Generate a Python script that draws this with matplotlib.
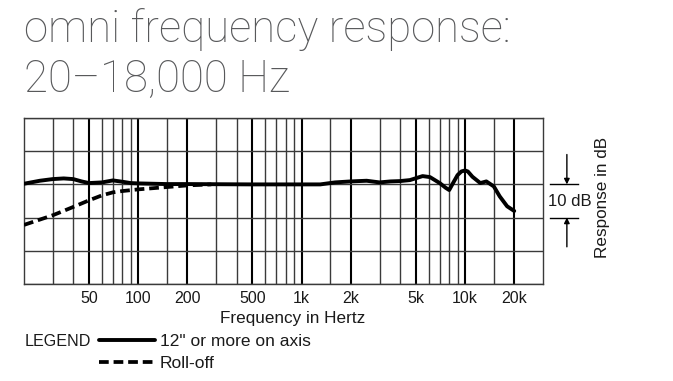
import matplotlib
matplotlib.use("Agg")
import matplotlib.pyplot as plt
import matplotlib.transforms as mtransforms
from matplotlib.ticker import FixedLocator, NullFormatter

plt.rcParams['font.family'] = ['Liberation Sans', 'DejaVu Sans']
plt.rcParams['lines.scale_dashes'] = False

# on-axis response (Hz, dB)
freq_axis = [20, 25, 30, 35, 40, 45, 50, 60, 70, 80, 90, 100, 150, 200, 500,
             1000, 1300, 1600, 2000, 2500, 3000, 3500, 4000, 4600, 5500, 6100,
             7000, 7600, 8000, 8400, 9000, 9500, 10000, 10400, 11100, 12400,
             13500, 15000, 16300, 18100, 20000]
db_axis = [0.2, 1.1, 1.6, 1.8, 1.6, 0.9, 0.4, 0.6, 1.2, 0.8, 0.4, 0.3, 0.1, 0.1, 0.0,
           0.0, 0.0, 0.6, 0.9, 1.1, 0.6, 0.9, 1.0, 1.3, 2.5, 2.2,
           0.4, -1.0, -1.7, 0.2, 2.8, 3.9, 4.2, 3.9, 2.3, 0.4,
           0.9, -0.6, -3.6, -6.6, -8.0]

# roll-off curve (Hz, dB)
freq_roll = [20, 30, 40, 50, 60, 70, 80, 100, 150, 200, 280]
db_roll = [-12.2, -9.3, -6.8, -4.8, -3.3, -2.4, -2.0, -1.5, -0.8, -0.3, 0.0]

major_ticks = [50, 100, 200, 500, 1000, 2000, 5000, 10000, 20000]
major_labels = ["50", "100", "200", "500", "1k", "2k", "5k", "10k", "20k"]
minor_ticks = [30, 40, 60, 70, 80, 90, 150, 300, 400, 600, 700, 800, 900,
               1500, 3000, 4000, 6000, 7000, 8000, 9000, 15000]
db_ticks = [-30, -20, -10, 0, 10, 20]

W, H = 673, 381
TXT = '#1a1a1a'
fig = plt.figure(figsize=(W / 100, H / 100), dpi=100)
ax = fig.add_axes([24 / W, 1 - 284 / H, (543 - 24) / W, (284 - 118) / H])

ax.set_xscale('log')
ax.set_xlim(20, 30000)
ax.set_ylim(-30, 20)

ax.plot(freq_roll, db_roll, color='black', lw=2.7, dashes=(7, 3.5),
        solid_capstyle='butt', label='Roll-off', zorder=3)
ax.plot(freq_axis, db_axis, color='black', lw=2.8, label='12" or more on axis',
        solid_capstyle='round', zorder=4)

ax.xaxis.set_major_locator(FixedLocator(major_ticks))
ax.xaxis.set_minor_locator(FixedLocator(minor_ticks))
ax.xaxis.set_minor_formatter(NullFormatter())
ax.set_xticklabels(major_labels)
ax.set_yticks(db_ticks)
ax.set_yticklabels([])
ax.tick_params(which='both', length=0)
ax.tick_params(axis='x', pad=5, labelsize=11.5, labelcolor=TXT)

ax.grid(which='major', axis='x', color='black', lw=1.5)
ax.grid(which='minor', axis='x', color='#3a3a3a', lw=1.0)
ax.grid(which='major', axis='y', color='#3a3a3a', lw=1.0)
ax.set_axisbelow(True)
for s in ax.spines.values():
    s.set_color('#3a3a3a')
    s.set_linewidth(1.0)

# 10 dB scale marker on the right
tr = mtransforms.blended_transform_factory(ax.transAxes, ax.transData)
for yv in (0, -10):
    ax.plot([1.0135, 1.067], [yv, yv], color='black', lw=1.0, transform=tr, clip_on=False)
ax.annotate('', xy=(1.046, 0), xytext=(1.046, 9), xycoords=tr, textcoords=tr,
            arrowprops=dict(arrowstyle='-|>', color='black', lw=1.0,
                            mutation_scale=8, shrinkA=0, shrinkB=0))
ax.annotate('', xy=(1.046, -10), xytext=(1.046, -18.8), xycoords=tr, textcoords=tr,
            arrowprops=dict(arrowstyle='-|>', color='black', lw=1.0,
                            mutation_scale=8, shrinkA=0, shrinkB=0))
ax.text(1.051, -5, '10 dB', transform=tr, ha='center', va='center',
        fontsize=12, color=TXT)
ax.text(1.1156, -4, 'Response in dB', transform=tr, ha='center', va='center',
        rotation=90, fontsize=12.3, color=TXT)

fig.text(293 / W, 1 - 319 / H, 'Frequency in Hertz', ha='center', va='center',
         fontsize=12.3, color=TXT)

# title
title_kw = dict(fontsize=31.5, color='#58595b', family=['Roboto', 'DejaVu Sans'],
                weight='light', va='baseline', ha='left')
fig.text(24 / W, 1 - 42 / H, 'omni frequency response:', **title_kw)
fig.text(24 / W, 1 - 91.5 / H, '20\u201318,000 Hz', **title_kw)

# legend
fig.text(25 / W, 1 - 341 / H, 'LEGEND', ha='left', va='center',
         fontsize=11.6, color=TXT)
handles, labels = ax.get_legend_handles_labels()
fig.legend(handles[::-1], labels[::-1], loc='upper left',
           bbox_to_anchor=(99 / W, 1 - 334 / H), frameon=False,
           fontsize=12.5, handlelength=3.2, handletextpad=0.3,
           borderpad=0, borderaxespad=0, labelspacing=0.4,
           labelcolor=TXT)

fig.savefig('out.png', dpi=100)
